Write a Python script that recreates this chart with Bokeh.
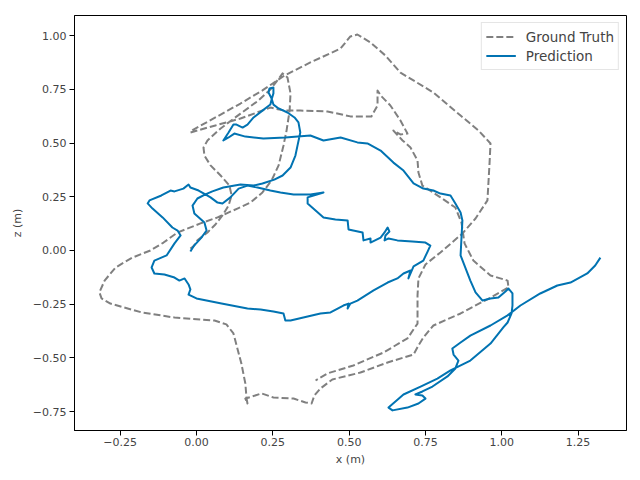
from bokeh.plotting import figure
from bokeh.models import FixedTicker, Legend, CustomJSTickFormatter
from bokeh.embed import file_html
from bokeh.resources import INLINE

# Ground-truth trajectory (x, z in metres)
gt_x = [-0.020, -0.010, 0.003, 0.036, 0.062, 0.085, 0.105, 0.115, 0.108, 0.079,
        0.046, 0.026, 0.023, 0.036, 0.079, 0.144, 0.203, 0.242, 0.262, 0.282,
        0.298, 0.308, 0.305, 0.295, 0.285, 0.269, 0.246, 0.216, 0.177, 0.134,
        0.069, 0.013, -0.062, -0.108, -0.151, -0.210, -0.265, -0.301, -0.318, -0.311,
        -0.282, -0.180, -0.072, 0.059, 0.098, 0.121, 0.147, 0.160, 0.164, 0.167,
        0.160, 0.183, 0.213, 0.252, 0.318, 0.357, 0.377, 0.386, 0.406, 0.445,
        0.537, 0.626, 0.711, 0.727, 0.743, 0.776, 0.865, 0.963, 1.022, 1.019,
        0.963, 0.907, 0.878, 0.868, 0.848, 0.799, 0.740, 0.727, 0.724, 0.701,
        0.675, 0.645, 0.668, 0.691, 0.668, 0.635, 0.606, 0.593, 0.593, 0.573,
        0.504, 0.429, 0.340, 0.288, 0.242, 0.144, 0.062, -0.020, -0.010, 0.062,
        0.144, 0.216, 0.288, 0.373, 0.472, 0.504, 0.527, 0.570, 0.619, 0.668,
        0.776, 0.865, 0.924, 0.963, 0.960, 0.953, 0.914, 0.871, 0.799, 0.750,
        0.727, 0.724, 0.724, 0.691, 0.612, 0.514, 0.429, 0.390]
gt_z = [0.009, 0.019, 0.047, 0.084, 0.121, 0.163, 0.209, 0.256, 0.302, 0.349,
        0.396, 0.442, 0.479, 0.512, 0.568, 0.637, 0.698, 0.749, 0.786, 0.824,
        0.805, 0.731, 0.651, 0.558, 0.489, 0.396, 0.326, 0.270, 0.223, 0.195,
        0.154, 0.126, 0.084, 0.037, 0.000, -0.033, -0.079, -0.140, -0.195, -0.223,
        -0.247, -0.288, -0.312, -0.326, -0.344, -0.386, -0.526, -0.619, -0.689, -0.712,
        -0.689, -0.679, -0.665, -0.684, -0.689, -0.707, -0.712, -0.675, -0.642, -0.600,
        -0.568, -0.521, -0.484, -0.442, -0.405, -0.349, -0.293, -0.219, -0.172, -0.140,
        -0.116, -0.047, 0.033, 0.130, 0.200, 0.247, 0.302, 0.363, 0.419, 0.479,
        0.512, 0.558, 0.540, 0.544, 0.605, 0.675, 0.717, 0.744, 0.675, 0.624,
        0.624, 0.647, 0.651, 0.651, 0.665, 0.614, 0.582, 0.549, 0.563, 0.619,
        0.684, 0.745, 0.814, 0.875, 0.940, 0.996, 1.005, 0.968, 0.907, 0.828,
        0.735, 0.628, 0.558, 0.498, 0.409, 0.233, 0.149, 0.079, -0.009, -0.065,
        -0.130, -0.209, -0.340, -0.409, -0.475, -0.535, -0.572, -0.605]

# Predicted trajectory (x, z in metres)
pred_x = [-0.020, -0.010, 0.016, 0.033, 0.026, -0.007, -0.013, 0.003, 0.029, 0.046,
          0.069, 0.085, 0.111, 0.138, 0.167, 0.200, 0.242, 0.275, 0.318, 0.373,
          0.416, 0.364, 0.364, 0.416, 0.455, 0.495, 0.498, 0.544, 0.547, 0.570,
          0.570, 0.603, 0.616, 0.626, 0.632, 0.619, 0.616, 0.629, 0.658, 0.707,
          0.750, 0.766, 0.757, 0.743, 0.711, 0.694, 0.701, 0.678, 0.658, 0.626,
          0.580, 0.527, 0.504, 0.495, 0.498, 0.481, 0.439, 0.406, 0.350, 0.308,
          0.291, 0.285, 0.252, 0.210, 0.167, 0.082, 0.000, -0.026, -0.020, -0.026,
          -0.039, -0.056, -0.072, -0.105, -0.138, -0.147, -0.138, -0.098, -0.072, -0.052,
          -0.062, -0.079, -0.111, -0.144, -0.160, -0.154, -0.115, -0.085, -0.072, -0.043,
          -0.026, -0.020, 0.007, 0.029, 0.052, 0.088, 0.144, 0.187, 0.216, 0.255,
          0.282, 0.308, 0.324, 0.331, 0.340, 0.334, 0.321, 0.298, 0.269, 0.252,
          0.246, 0.236, 0.239, 0.252, 0.252, 0.246, 0.242, 0.216, 0.187, 0.167,
          0.151, 0.131, 0.121, 0.105, 0.088, 0.105, 0.124, 0.160, 0.219, 0.291,
          0.373, 0.416, 0.472, 0.527, 0.560, 0.603, 0.645, 0.678, 0.711, 0.743,
          0.776, 0.799, 0.832, 0.848, 0.865, 0.871, 0.868, 0.865, 0.878, 0.897,
          0.914, 0.937, 0.963, 0.989, 1.012, 1.022, 1.035, 1.035, 1.032, 1.019,
          1.005, 0.963, 0.897, 0.832, 0.789, 0.734, 0.678, 0.629, 0.642, 0.691,
          0.727, 0.750, 0.740, 0.717, 0.740, 0.773, 0.822, 0.848, 0.858, 0.842,
          0.838, 0.865, 0.897, 0.963, 1.019, 1.061, 1.126, 1.182, 1.225, 1.280,
          1.306, 1.323]
pred_z = [-0.005, 0.019, 0.060, 0.093, 0.130, 0.172, 0.209, 0.242, 0.261, 0.247,
          0.223, 0.219, 0.247, 0.288, 0.302, 0.293, 0.279, 0.270, 0.261, 0.261,
          0.270, 0.247, 0.219, 0.154, 0.144, 0.140, 0.098, 0.084, 0.047, 0.056,
          0.037, 0.060, 0.084, 0.107, 0.088, 0.070, 0.047, 0.056, 0.047, 0.042,
          0.037, 0.023, -0.005, -0.047, -0.074, -0.130, -0.093, -0.107, -0.130, -0.149,
          -0.186, -0.233, -0.247, -0.270, -0.247, -0.256, -0.288, -0.293, -0.312, -0.326,
          -0.326, -0.293, -0.284, -0.275, -0.270, -0.247, -0.223, -0.205, -0.181, -0.158,
          -0.130, -0.140, -0.126, -0.112, -0.107, -0.079, -0.047, -0.023, 0.033, 0.070,
          0.093, 0.107, 0.154, 0.195, 0.219, 0.233, 0.256, 0.279, 0.275, 0.288,
          0.307, 0.293, 0.279, 0.261, 0.275, 0.293, 0.307, 0.302, 0.312, 0.330,
          0.349, 0.386, 0.442, 0.489, 0.549, 0.596, 0.619, 0.642, 0.661, 0.679,
          0.707, 0.735, 0.754, 0.758, 0.731, 0.703, 0.679, 0.651, 0.619, 0.586,
          0.572, 0.586, 0.586, 0.549, 0.512, 0.526, 0.544, 0.530, 0.521, 0.526,
          0.535, 0.512, 0.526, 0.503, 0.498, 0.465, 0.409, 0.372, 0.312, 0.288,
          0.279, 0.265, 0.256, 0.219, 0.177, 0.140, 0.060, -0.023, -0.070, -0.140,
          -0.195, -0.233, -0.223, -0.219, -0.191, -0.177, -0.200, -0.256, -0.293, -0.335,
          -0.358, -0.433, -0.512, -0.558, -0.596, -0.633, -0.670, -0.731, -0.744, -0.731,
          -0.712, -0.689, -0.675, -0.670, -0.656, -0.633, -0.586, -0.549, -0.512, -0.484,
          -0.456, -0.428, -0.396, -0.349, -0.302, -0.256, -0.200, -0.163, -0.149, -0.107,
          -0.070, -0.033]

x_ticks = [-0.25, 0.0, 0.25, 0.5, 0.75, 1.0, 1.25]
z_ticks = [-0.75, -0.5, -0.25, 0.0, 0.25, 0.5, 0.75, 1.0]

p = figure(width=632, height=472, output_backend="svg", toolbar_location=None,
           x_range=(-0.3996, 1.4085), y_range=(-0.8376, 1.0935),
           min_border_left=74, min_border_right=6, min_border_top=15, min_border_bottom=42,
           background_fill_color="white", border_fill_color="white")

gt = p.line(gt_x, gt_z, line_color="#808080", line_width=2, line_dash="7 3",
            line_join="round")
pr = p.line(pred_x, pred_z, line_color="#0173B2", line_width=2, line_join="round")

p.grid.visible = False
p.outline_line_color = "black"
p.outline_line_width = 1
p.outline_line_alpha = 1

fmt = CustomJSTickFormatter(code="return tick.toFixed(2).replace('-', '\u2212');")
for ax, ticks, lab, stand, lstand in ((p.xaxis[0], x_ticks, "x (m)", 4, 2),
                                      (p.yaxis[0], z_ticks, "z (m)", 6, 3)):
    ax.ticker = FixedTicker(ticks=ticks)
    ax.formatter = fmt
    ax.axis_label = lab
    ax.axis_label_text_font = "DejaVu Sans"
    ax.axis_label_text_font_size = "11px"
    ax.axis_label_text_font_style = "normal"
    ax.axis_label_standoff = stand
    ax.major_label_text_font = "DejaVu Sans"
    ax.major_label_text_font_size = "11px"
    ax.major_label_standoff = lstand
    ax.major_tick_out = 5
    ax.major_tick_in = 0
    ax.major_tick_line_color = "black"
    ax.minor_tick_line_color = None
    ax.axis_line_color = "black"

legend = Legend(items=[("Ground Truth", [gt]), ("Prediction", [pr])],
                location="top_right", margin=7, padding=4, spacing=0,
                glyph_width=30, glyph_height=19, label_height=19, label_standoff=10,
                label_text_font="DejaVu Sans", label_text_font_size="13.5px",
                border_line_color="#cccccc", border_line_width=1,
                background_fill_color="white", background_fill_alpha=0.8)
p.add_layout(legend)

open("out.html", "w").write(file_html(p, INLINE))
